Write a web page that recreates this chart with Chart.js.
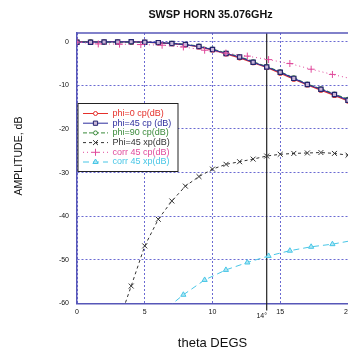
<!DOCTYPE html>
<html>
<head>
<meta charset="utf-8">
<script src="https://cdn.jsdelivr.net/npm/chart.js@4.4.1/dist/chart.umd.min.js"></script>
<style>
  html, body { margin: 0; padding: 0; background: #fff; }
  #wrap { width: 348px; height: 351px; position: relative; }
</style>
</head>
<body>
<div id="wrap"><canvas id="chart"></canvas></div>
<script>
// --- data ---
const chartTitle = 'SWSP HORN 35.076GHz';
const xTitle = 'theta DEGS';
const yTitle = 'AMPLITUDE, dB';

const xTicks = [0, 5, 10, 15, 20];
const yTicks = [-60, -50, -40, -30, -20, -10, 0];
const markTheta = 14;
const markLabel = '14\u00b0';

const thetaCp = [0, 1, 2, 3, 4, 5, 6, 7, 8, 9, 10, 11, 12, 13, 14, 15, 16, 17, 18, 19, 20];
const phi0Cp  = [0, 0, 0, 0, -0.05, -0.1, -0.25, -0.45, -0.7, -1.2, -1.9, -2.8, -3.7, -4.8, -5.9, -7.2, -8.6, -9.9, -11.1, -12.3, -13.6];
const phi45Cp = [-0.1, -0.1, -0.05, -0.05, 0, -0.1, -0.2, -0.4, -0.65, -1.1, -1.8, -2.7, -3.5, -4.7, -5.8, -7.0, -8.4, -9.8, -10.9, -12.1, -13.4];
const phi90Cp = [0, -0.05, -0.1, -0.1, -0.1, -0.15, -0.2, -0.35, -0.6, -1.0, -1.7, -2.6, -3.4, -4.6, -5.7, -6.9, -8.3, -9.7, -10.8, -12.0, -13.2];

const thetaXp = [3, 4, 5, 6, 7, 8, 9, 10, 11, 12, 13, 14, 15, 16, 17, 18, 19, 20];
const phi45Xp = [-65, -56.0, -46.8, -40.7, -36.5, -33.1, -30.9, -29.2, -28.1, -27.5, -26.9, -26.2, -25.8, -25.6, -25.5, -25.4, -25.6, -26.0];

const thetaCorr = [0, 1.57, 3.14, 4.71, 6.28, 7.85, 9.42, 10.99, 12.57, 14.14, 15.71, 17.28, 18.85, 20.42];
const corrCp = [-0.1, -0.5, -0.55, -0.65, -0.8, -1.2, -1.95, -2.6, -3.3, -4.1, -5.0, -6.3, -7.5, -8.6];
const corrXp = [-70, -68, -65, -64, -62, -58.0, -54.6, -52.3, -50.6, -49.1, -47.9, -47.0, -46.4, -45.5];

const axisColor = '#5757b8';
const gridColor = '#6a6ad2';

function pts(xs, ys) {
    return xs.map((x, i) => ({ x: x, y: ys[i] }));
}

// titles, top border, 14 deg marker line and the boxed legend
const decorPlugin = {
    id: 'decor',
    beforeDatasetsDraw(chart) {
        const { ctx, chartArea: a, scales: { x } } = chart;
        const mx = x.getPixelForValue(markTheta);
        ctx.save();
        ctx.strokeStyle = '#222';
        ctx.lineWidth = 1.2;
        ctx.beginPath();
        ctx.moveTo(mx, a.top);
        ctx.lineTo(mx, a.bottom + 7);
        ctx.stroke();
        ctx.restore();
    },
    afterDraw(chart) {
        const { ctx, chartArea: a, scales: { x } } = chart;
        ctx.save();

        // top frame line
        ctx.strokeStyle = axisColor;
        ctx.lineWidth = 1.5;
        ctx.beginPath();
        ctx.moveTo(a.left, a.top);
        ctx.lineTo(a.right, a.top);
        ctx.stroke();

        // 14 deg label, a bit lower and left of the line
        ctx.fillStyle = '#111';
        ctx.font = '7px "Liberation Sans", Arial, sans-serif';
        ctx.textAlign = 'center';
        ctx.textBaseline = 'middle';
        ctx.fillText(markLabel, x.getPixelForValue(markTheta) - 5, a.bottom + 12.5);

        // chart title
        ctx.font = 'bold 10.8px "Liberation Sans", Arial, sans-serif';
        ctx.fillText(chartTitle, (a.left + a.right) / 2 - 2, 15);

        // y axis title
        ctx.save();
        ctx.translate(19, 156);
        ctx.rotate(-Math.PI / 2);
        ctx.font = '10.5px "Liberation Sans", Arial, sans-serif';
        ctx.fillText(yTitle, 0, 0);
        ctx.restore();

        // legend box
        const bx = 78, by = 103.5, bw = 100, bh = 68;
        ctx.fillStyle = '#fff';
        ctx.fillRect(bx, by, bw, bh);
        ctx.strokeStyle = '#222';
        ctx.lineWidth = 1;
        ctx.strokeRect(bx, by, bw, bh);

        ctx.textAlign = 'left';
        ctx.font = '9px "Liberation Sans", Arial, sans-serif';
        chart.data.datasets.forEach((ds, i) => {
            const ry = by + 10 + i * 9.7;
            ctx.save();
            ctx.strokeStyle = ds.borderColor;
            ctx.lineWidth = 1;
            ctx.setLineDash(ds.borderDash || []);
            ctx.beginPath();
            ctx.moveTo(bx + 5, ry);
            ctx.lineTo(bx + 30, ry);
            ctx.stroke();
            ctx.setLineDash([]);
            ctx.fillStyle = ds.pointBackgroundColor || '#fff';
            ctx.strokeStyle = ds.pointBorderColor || ds.borderColor;
            Chart.helpers.drawPoint(ctx, {
                pointStyle: ds.pointStyle,
                radius: ds.pointRadius,
                rotation: 0,
                borderWidth: 1
            }, bx + 17.5, ry);
            ctx.restore();
            ctx.fillStyle = ds.borderColor;
            ctx.fillText(ds.label, bx + 34.5, ry);
        });

        ctx.restore();
    }
};

const ctx = document.getElementById('chart').getContext('2d');
const chart = new Chart(ctx, {
    type: 'line',
    data: {
        datasets: [
            {
                label: 'phi=0 cp(dB)',
                data: pts(thetaCp, phi0Cp),
                borderColor: '#e5302b',
                borderWidth: 1.2,
                pointStyle: 'circle',
                pointRadius: 2,
                pointBackgroundColor: '#fff',
                pointBorderColor: '#e5302b',
                order: 3
            },
            {
                label: 'phi=45 cp (dB)',
                data: pts(thetaCp, phi45Cp),
                borderColor: '#2f2f9e',
                borderWidth: 1.2,
                pointStyle: 'rect',
                pointRadius: 3,
                pointBackgroundColor: '#c9b6d8',
                pointBorderColor: '#25256e',
                order: 1
            },
            {
                label: 'phi=90 cp(dB)',
                data: pts(thetaCp, phi90Cp),
                borderColor: '#3a8a3a',
                borderWidth: 1.2,
                borderDash: [4, 2],
                pointStyle: 'circle',
                pointRadius: 2,
                pointBackgroundColor: '#fff',
                pointBorderColor: '#3a8a3a',
                order: 2
            },
            {
                label: 'Phi=45 xp(dB)',
                data: pts(thetaXp, phi45Xp),
                borderColor: '#333333',
                borderWidth: 1,
                borderDash: [3, 3],
                pointStyle: 'crossRot',
                pointRadius: 3.5,
                pointBorderColor: '#333333',
                order: 4
            },
            {
                label: 'corr 45 cp(dB)',
                data: pts(thetaCorr, corrCp),
                borderColor: '#e04a9c',
                borderWidth: 1,
                borderDash: [1, 3],
                pointStyle: 'cross',
                pointRadius: 3.5,
                pointBorderColor: '#e04a9c',
                order: 0
            },
            {
                label: 'corr 45 xp(dB)',
                data: pts(thetaCorr, corrXp),
                borderColor: '#48c6e6',
                borderWidth: 1,
                borderDash: [6, 4],
                pointStyle: 'triangle',
                pointRadius: 3,
                pointBackgroundColor: '#aee6f4',
                pointBorderColor: '#48c6e6',
                order: 5
            }
        ]
    },
    options: {
        responsive: true,
        maintainAspectRatio: false,
        animation: false,
        layout: {
            autoPadding: false,
            padding: { top: 33, left: 0, right: 0, bottom: 0 }
        },
        plugins: {
            legend: { display: false },
            tooltip: { enabled: false }
        },
        scales: {
            x: {
                type: 'linear',
                min: 0,
                max: 20,
                afterBuildTicks: s => { s.ticks = xTicks.map(v => ({ value: v })); },
                afterFit: s => { s.height = 47.5; s.paddingLeft = 0; s.paddingRight = 0; },
                ticks: {
                    color: '#111',
                    font: { size: 7, family: '"Liberation Sans", Arial, sans-serif' },
                    padding: 4.5,
                    maxRotation: 0,
                    autoSkip: false
                },
                grid: { color: gridColor, lineWidth: 1, drawTicks: false },
                border: { color: axisColor, width: 1.5, dash: [2, 2] },
                title: {
                    display: true,
                    text: xTitle,
                    color: '#111',
                    font: { size: 13, family: '"Liberation Sans", Arial, sans-serif' },
                    padding: { top: 0, bottom: 0 }
                }
            },
            y: {
                min: -60,
                max: 2,
                afterBuildTicks: s => { s.ticks = yTicks.map(v => ({ value: v })); },
                afterFit: s => { s.width = 77; },
                ticks: {
                    color: '#111',
                    font: { size: 7, family: '"Liberation Sans", Arial, sans-serif' },
                    padding: 8,
                    callback: v => String(v)
                },
                grid: { color: gridColor, lineWidth: 1, drawTicks: false },
                border: { color: axisColor, width: 1.5, dash: [2, 2] }
            }
        }
    },
    plugins: [decorPlugin]
});
</script>
</body>
</html>
